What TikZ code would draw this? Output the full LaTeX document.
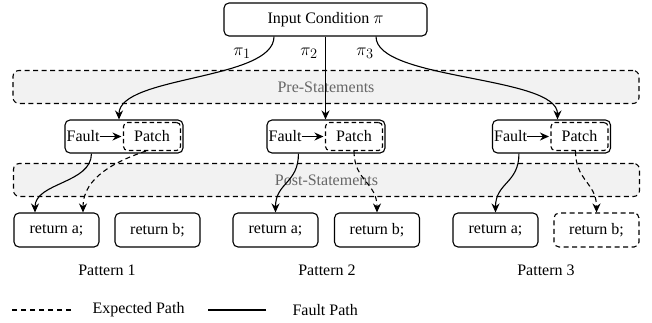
\documentclass[tikz,border=0pt]{standalone}
\usepackage{fontspec}
\setmainfont{Liberation Serif}[Ligatures=TeX]
\usetikzlibrary{arrows.meta}

\definecolor{bandfill}{gray}{0.95}
\definecolor{bandtext}{gray}{0.4}

\begin{document}
\begin{tikzpicture}[x=1pt,y=-1pt,
    font=\rmfamily\fontsize{16}{19}\selectfont,
    lbox/.style={draw, rounded corners=5pt, line width=1.1pt},
    band/.style={draw, dash pattern=on 5pt off 3.5pt, line width=1.1pt, rounded corners=6pt,
        fill=bandfill, text=bandtext, minimum width=626pt, minimum height=33pt},
    faultbox/.style={lbox, minimum width=118pt, minimum height=33pt},
    patchbox/.style={draw, dash pattern=on 4.5pt off 3pt, line width=1.1pt, rounded corners=4pt,
        minimum width=57pt, minimum height=28pt, inner sep=0pt},
    retbox/.style={lbox, minimum width=85pt, minimum height=34pt},
    arr/.style={-{Stealth[length=9pt,width=8pt]}, line width=1.1pt},
    dsh/.style={dash pattern=on 5pt off 3.5pt}]
    \useasboundingbox (0,0) rectangle (652,322);

    % bands
    \node[band] (pre) at (326,87) {Pre-Statements};
    \node[band] (post) at (326.5,180) {Post-Statements};

    \node[lbox, minimum width=203pt, minimum height=33pt] (inp) at (325.5,19.5) {Input Condition $\pi$};

    % fault boxes
    \node[faultbox] (fb1) at (124,136.5) {};
    \node[faultbox] (fb2) at (326,136.5) {};
    \node[faultbox] (fb3) at (551.5,136.5) {};
    \foreach \i in {1,2,3} {
        \node[anchor=west, inner sep=0pt] (fa\i) at ([xshift=2pt]fb\i.west) {Fault};
        \node[patchbox, anchor=east] (pa\i) at ([xshift=-2.5pt]fb\i.east) {Patch};
        \draw[arr, shorten >=1.5pt] (fa\i) -- (pa\i);
    }

    % return boxes
    \node[retbox] (ra1) at (56.5,230) {return a;};
    \node[retbox] (rb1) at (157.5,230) {return b;};
    \node[retbox] (ra2) at (275.5,230) {return a;};
    \node[retbox] (rb2) at (377,230) {return b;};
    \node[retbox] (ra3) at (495.5,230) {return a;};
    \node[retbox, dsh] (rb3) at (596.5,230) {return b;};

    \node (pat1) at (107,270) {Pattern 1};
    \node (pat2) at (327,270) {Pattern 2};
    \node (pat3) at (546,270) {Pattern 3};

    % input paths
    \draw[arr] ([xshift=-51.5pt]inp.south) .. controls +(0,44) and +(0,-44) .. ([xshift=-5pt]fb1.north);
    \draw[arr] (inp.south) -- (inp.south |- fb2.north);
    \draw[arr] ([xshift=50.5pt]inp.south) .. controls +(0,44) and +(0,-44) .. ([xshift=6pt]fb3.north);
    \node[font=\fontsize{19}{22}\selectfont] (pi1) at (242,53) {$\pi_1$};
    \node[font=\fontsize{19}{22}\selectfont] (pi2) at (309,53) {$\pi_2$};
    \node[font=\fontsize{19}{22}\selectfont] (pi3) at (365,53) {$\pi_3$};

    % fault paths
    \draw[arr] ([xshift=27pt]fb1.south west) .. controls +(0,30) and +(0,-30) .. ([xshift=-21.5pt]ra1.north);
    \draw[arr] ([xshift=32pt]fb2.south west) .. controls +(0,30) and +(0,-30) .. (ra2.north);
    \draw[arr] ([xshift=27pt]fb3.south west) .. controls +(0,30) and +(0,-30) .. (ra3.north);

    % expected paths
    \draw[arr, dsh] ([xshift=-6pt]pa1.south) .. controls +(-30,10) and +(0,-35) .. ([xshift=26.5pt]ra1.north);
    \draw[arr, dsh] (pa2.south) .. controls +(0,30) and +(0,-30) .. (rb2.north);
    \draw[arr, dsh] ([xshift=-4pt]pa3.south) .. controls +(0,30) and +(0,-30) .. (rb3.north);

    % legend
    \node[anchor=west] (lexp) at (89,310) {Expected Path};
    \node[anchor=west] (lflt) at (289,310) {Fault Path};
    \draw[line width=1.1pt, dash pattern=on 5pt off 4pt] ([xshift=-18pt]lexp.west) -- ++(-59,0);
    \draw[line width=1.1pt] ([xshift=-23pt]lflt.west) -- ++(-58,0);
\end{tikzpicture}
\end{document}
